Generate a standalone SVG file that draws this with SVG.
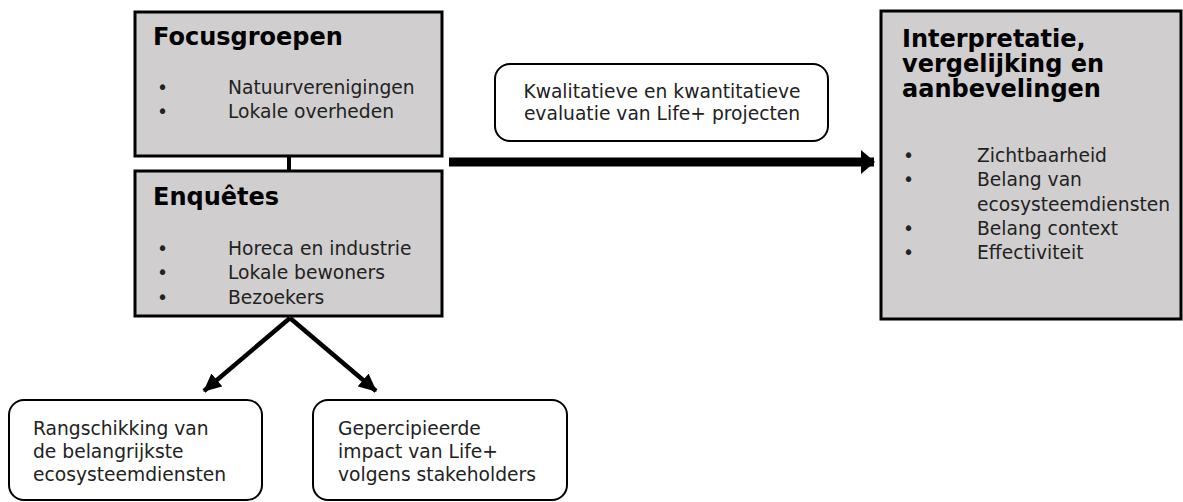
<svg xmlns="http://www.w3.org/2000/svg" width="1183" height="502" viewBox="0 0 1183 502">
<style>
.box{fill:#d0cece;stroke:#000;stroke-width:3}
.rbox{fill:#fff;stroke:#000;stroke-width:2}
text{font-family:"DejaVu Sans","Verdana",sans-serif;fill:#222}
.t{font-size:24px;font-weight:bold;fill:#000}
.b{font-size:18.7px}
.c{stroke:#000;fill:none}
</style>
<defs>
<marker id="big" viewBox="0 0 14 24" refX="13" refY="12" markerWidth="14" markerHeight="24" orient="auto" markerUnits="userSpaceOnUse">
<path d="M0,0 L14,12 L0,24 z" fill="#000"/>
</marker>
<marker id="sm" viewBox="0 0 18 17" refX="17" refY="8.5" markerWidth="18" markerHeight="17" orient="auto" markerUnits="userSpaceOnUse">
<path d="M0,0 L18,8.5 L0,17 z" fill="#000"/>
</marker>
</defs>
<rect width="1183" height="502" fill="#fff"/>
<g id="connectors">
<line class="c" x1="289" y1="156" x2="289" y2="171" stroke-width="4"/>
<line class="c" x1="449" y1="162" x2="874" y2="162" stroke-width="9" marker-end="url(#big)"/>
<line class="c" x1="290" y1="318" x2="204" y2="391" stroke-width="4.5" marker-end="url(#sm)"/>
<line class="c" x1="290" y1="318" x2="376" y2="391" stroke-width="4.5" marker-end="url(#sm)"/>
</g>
<g id="focusgroepen">
<rect class="box" x="135" y="12" width="307" height="144"/>
<text class="t" x="153" y="45">Focusgroepen</text>
<text class="b" x="157" y="94">•</text>
<text class="b" x="228" y="94">Natuurverenigingen</text>
<text class="b" x="157" y="118">•</text>
<text class="b" x="228" y="118">Lokale overheden</text>
</g>
<g id="enquetes">
<rect class="box" x="135" y="171" width="307" height="145"/>
<text class="t" x="153" y="205">Enquêtes</text>
<text class="b" x="157" y="255">•</text>
<text class="b" x="228" y="255">Horeca en industrie</text>
<text class="b" x="157" y="279">•</text>
<text class="b" x="228" y="279">Lokale bewoners</text>
<text class="b" x="157" y="304">•</text>
<text class="b" x="228" y="304">Bezoekers</text>
</g>
<g id="evaluatie">
<rect class="rbox" x="495" y="64" width="333" height="77" rx="15"/>
<text class="b" x="662" y="98" text-anchor="middle">Kwalitatieve en kwantitatieve</text>
<text class="b" x="662" y="120" text-anchor="middle">evaluatie van Life+ projecten</text>
</g>
<g id="interpretatie">
<rect class="box" x="881" y="11" width="300" height="308"/>
<text class="t" x="902" y="47">Interpretatie,</text>
<text class="t" x="902" y="72">vergelijking en</text>
<text class="t" x="902" y="97">aanbevelingen</text>
<text class="b" x="903" y="162">•</text>
<text class="b" x="977" y="162">Zichtbaarheid</text>
<text class="b" x="903" y="186">•</text>
<text class="b" x="977" y="186">Belang van</text>
<text class="b" x="977" y="211">ecosysteemdiensten</text>
<text class="b" x="903" y="235">•</text>
<text class="b" x="977" y="235">Belang context</text>
<text class="b" x="903" y="259">•</text>
<text class="b" x="977" y="259">Effectiviteit</text>
</g>
<g id="rangschikking">
<rect class="rbox" x="9" y="400" width="253" height="100" rx="15"/>
<text class="b" x="33" y="435">Rangschikking van</text>
<text class="b" x="33" y="458">de belangrijkste</text>
<text class="b" x="33" y="481">ecosysteemdiensten</text>
</g>
<g id="impact">
<rect class="rbox" x="313" y="400" width="254" height="100" rx="15"/>
<text class="b" x="338" y="435">Gepercipieerde</text>
<text class="b" x="338" y="458">impact van Life+</text>
<text class="b" x="338" y="481">volgens stakeholders</text>
</g>
</svg>
